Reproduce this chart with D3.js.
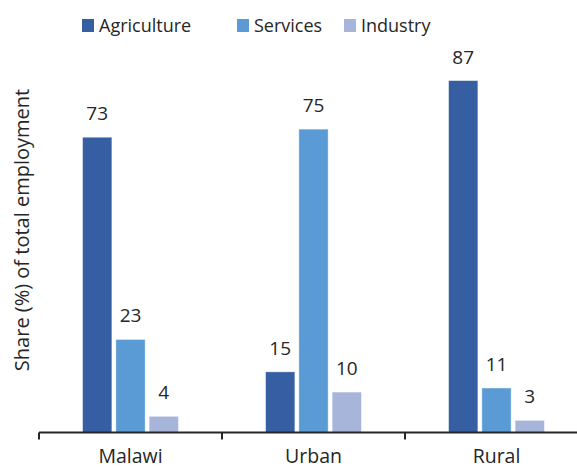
<!DOCTYPE html>
<html>
<head>
<meta charset="utf-8">
<script src="https://cdn.jsdelivr.net/npm/d3@7"></script>
<style>
  body { margin: 0; background: #fff; }
  text { font-family: "Open Sans", sans-serif; fill: #262626; }
</style>
</head>
<body>
<svg width="577" height="470"></svg>
<script>
var categories = ["Malawi", "Urban", "Rural"];
var series = ["Agriculture", "Services", "Industry"];
var agriculture = [73, 15, 87];
var services = [23, 75, 11];
var industry = [4, 10, 3];
var colors = ["#365fa3", "#5b9bd5", "#a8b5db"];

var values = [agriculture, services, industry];

var svg = d3.select("svg");

var baseY = 432.5;

var x0 = d3.scaleBand().domain(categories).range([39, 588]);
var x1 = d3.scaleBand().domain(series)
  .range([0, x0.bandwidth()])
  .paddingInner(0.12)
  .paddingOuter(1.31);
var y = d3.scaleLinear().domain([0, 100]).range([baseY, 28]);

// bars
var groups = svg.selectAll(".grp")
  .data(categories)
  .enter().append("g")
  .attr("class", "grp")
  .attr("transform", function (d) { return "translate(" + x0(d) + ",0)"; });

groups.selectAll("rect")
  .data(function (d, ci) {
    return series.map(function (s, si) { return { s: s, si: si, v: values[si][ci] }; });
  })
  .enter().append("rect")
  .attr("x", function (d) { return x1(d.s); })
  .attr("y", function (d) { return y(d.v); })
  .attr("width", x1.bandwidth())
  .attr("height", function (d) { return baseY - y(d.v); })
  .attr("fill", function (d) { return colors[d.si]; })
  .attr("stroke", "#ffffff")
  .attr("stroke-opacity", 0.5)
  .attr("stroke-width", 0.8);

groups.selectAll(".lbl")
  .data(function (d, ci) {
    return series.map(function (s, si) { return { s: s, si: si, v: values[si][ci] }; });
  })
  .enter().append("text")
  .attr("class", "lbl")
  .attr("x", function (d) { return x1(d.s) + x1.bandwidth() / 2; })
  .attr("y", function (d) { return y(d.v) - 17; })
  .attr("text-anchor", "middle")
  .style("font-size", "19px")
  .text(function (d) { return d.v; });

// x axis
var axis = svg.append("g")
  .attr("transform", "translate(0," + baseY + ")")
  .call(d3.axisBottom(x0).tickSize(0).tickPadding(17));
axis.select(".domain").remove();
axis.selectAll("text").style("font-size", "19.5px").attr("fill", "#262626");

axis.append("line")
  .attr("x1", 39).attr("x2", 577)
  .attr("stroke", "#262626").attr("stroke-width", 2);

axis.selectAll(".sep")
  .data(categories)
  .enter().append("line")
  .attr("class", "sep")
  .attr("x1", function (d) { return x0(d); })
  .attr("x2", function (d) { return x0(d); })
  .attr("y1", 0).attr("y2", 7)
  .attr("stroke", "#262626").attr("stroke-width", 2);

// y label
svg.append("text")
  .attr("transform", "translate(29,230) rotate(-90)")
  .attr("text-anchor", "middle")
  .style("font-size", "20px")
  .text("Share (%) of total employment");

// legend
var legendX = [82, 237, 344];
var legend = svg.selectAll(".leg")
  .data(series)
  .enter().append("g")
  .attr("class", "leg")
  .attr("transform", function (d, i) { return "translate(" + legendX[i] + ",19)"; });
legend.append("rect")
  .attr("width", 12).attr("height", 13)
  .attr("fill", function (d, i) { return colors[i]; });
legend.append("text")
  .attr("x", 17).attr("y", 13)
  .style("font-size", "18px")
  .text(function (d) { return d; });
</script>
</body>
</html>
